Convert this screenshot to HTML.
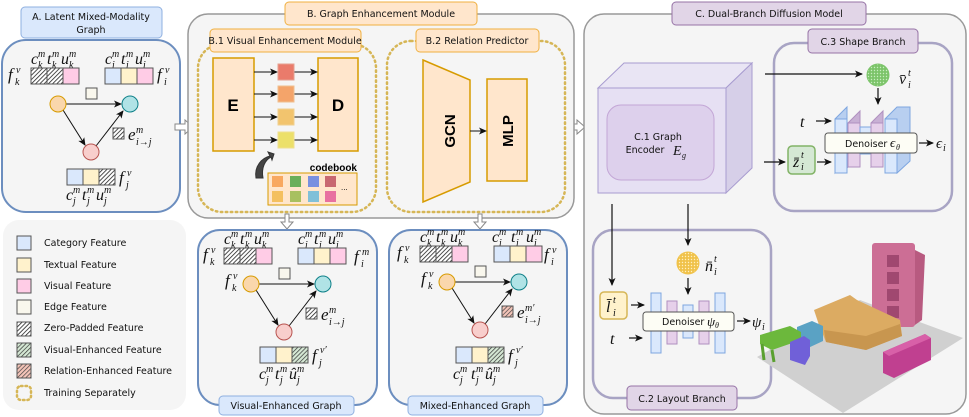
<!DOCTYPE html>
<html><head><meta charset="utf-8"><style>
html,body{margin:0;padding:0;background:#fff;}
svg{display:block;}
.lb{font-family:"DejaVu Sans","Liberation Sans",sans-serif;font-size:9.5px;fill:#111;}
.m{font-family:"Liberation Serif","DejaVu Serif",serif;font-style:italic;fill:#111;}
</style></head><body>
<svg width="969" height="417" viewBox="0 0 969 417" xmlns="http://www.w3.org/2000/svg">
<defs>
<pattern id="hk" patternUnits="userSpaceOnUse" width="3" height="3" patternTransform="rotate(45)"><rect width="3" height="3" fill="#fff"/><line x1="0" y1="0" x2="0" y2="3" stroke="#222" stroke-width="1.6"/></pattern>
<pattern id="hg" patternUnits="userSpaceOnUse" width="3" height="3" patternTransform="rotate(45)"><rect width="3" height="3" fill="#d5e8d4"/><line x1="0" y1="0" x2="0" y2="3" stroke="#333" stroke-width="1.4"/></pattern>
<pattern id="hp" patternUnits="userSpaceOnUse" width="3" height="3" patternTransform="rotate(45)"><rect width="3" height="3" fill="#f4c4b8"/><line x1="0" y1="0" x2="0" y2="3" stroke="#444" stroke-width="1.4"/></pattern>
<pattern id="dotg" patternUnits="userSpaceOnUse" width="3" height="3"><rect width="3" height="3" fill="#7cc46a"/><circle cx="1.5" cy="1.5" r="0.7" fill="#c8eec0"/></pattern>
<pattern id="doty" patternUnits="userSpaceOnUse" width="3" height="3"><rect width="3" height="3" fill="#f0c24a"/><circle cx="1.5" cy="1.5" r="0.7" fill="#fff0c0"/></pattern>
<marker id="ar" markerWidth="8" markerHeight="8" refX="7" refY="4" orient="auto" markerUnits="userSpaceOnUse"><path d="M0,0.5 L8,4 L0,7.5 L2,4 Z" fill="#111"/></marker>
</defs>

<!-- ===== Panel A ===== -->
<rect x="2" y="40" width="178" height="172" rx="24" fill="#f5f5f5" stroke="#6c8ebf" stroke-width="2"/>
<rect x="21" y="7" width="141" height="31" rx="4" fill="#dae8fc" stroke="#8fb0e0"/>
<text class="lb" x="91" y="20" text-anchor="middle">A. Latent Mixed-Modality</text>
<text class="lb" x="91" y="33" text-anchor="middle">Graph</text>

<g>
<text class="m" x="31" y="64" font-size="16">c</text><text class="m" x="38" y="57" font-size="10">m</text><text class="m" x="38" y="68" font-size="10">k</text>
<text class="m" x="47" y="64" font-size="16">t</text><text class="m" x="52" y="57" font-size="10">m</text><text class="m" x="52" y="68" font-size="10">k</text>
<text class="m" x="61" y="64" font-size="16">u</text><text class="m" x="69" y="57" font-size="10">m</text><text class="m" x="69" y="68" font-size="10">k</text>
<text class="m" x="8" y="80" font-size="17">f</text><text class="m" x="16" y="73" font-size="10">v</text><text class="m" x="15" y="85" font-size="10">k</text>
<rect x="31" y="68" width="16" height="16" fill="url(#hk)" stroke="#555"/><rect x="47" y="68" width="16" height="16" fill="url(#hk)" stroke="#555"/><rect x="63" y="68" width="16" height="16" fill="#ffcce6" stroke="#555"/>
<text class="m" x="105" y="64" font-size="16">c</text><text class="m" x="112" y="57" font-size="10">m</text><text class="m" x="112" y="68" font-size="10">i</text>
<text class="m" x="121" y="64" font-size="16">t</text><text class="m" x="126" y="57" font-size="10">m</text><text class="m" x="126" y="68" font-size="10">i</text>
<text class="m" x="135" y="64" font-size="16">u</text><text class="m" x="143" y="57" font-size="10">m</text><text class="m" x="143" y="68" font-size="10">i</text>
<rect x="105" y="68" width="16" height="16" fill="#dae8fc" stroke="#555"/><rect x="121" y="68" width="16" height="16" fill="#fff2cc" stroke="#555"/><rect x="137" y="68" width="16" height="16" fill="#ffcce6" stroke="#555"/>
<text class="m" x="157" y="80" font-size="17">f</text><text class="m" x="165" y="73" font-size="10">v</text><text class="m" x="164" y="85" font-size="10">i</text>
<rect x="86" y="88" width="11" height="11" fill="#f9f7ed" stroke="#555"/>
<line x1="66" y1="104" x2="121" y2="104" stroke="#111" marker-end="url(#ar)"/>
<line x1="63" y1="110" x2="85" y2="145" stroke="#111" marker-end="url(#ar)"/>
<line x1="96" y1="146" x2="123" y2="111" stroke="#111" marker-end="url(#ar)"/>
<circle cx="58" cy="104" r="8" fill="#fad7ac" stroke="#d79b00"/>
<circle cx="130" cy="104" r="8" fill="#b0e3e6" stroke="#0e8088"/>
<circle cx="91" cy="152" r="8" fill="#f8cecc" stroke="#b85450"/>
<rect x="113" y="128" width="11" height="11" fill="url(#hk)" stroke="#555"/>
<text class="m" x="128" y="140" font-size="17">e</text><text class="m" x="136" y="133" font-size="10">m</text><text class="m" x="136" y="145" font-size="10">i→j</text>
<rect x="67" y="169" width="16" height="16" fill="#dae8fc" stroke="#555"/><rect x="83" y="169" width="16" height="16" fill="#fff2cc" stroke="#555"/><rect x="99" y="169" width="16" height="16" fill="url(#hk)" stroke="#555"/>
<text class="m" x="119" y="183" font-size="17">f</text><text class="m" x="127" y="176" font-size="10">v</text><text class="m" x="126" y="188" font-size="10">j</text>
<text class="m" x="66" y="200" font-size="16">c</text><text class="m" x="73" y="193" font-size="10">m</text><text class="m" x="73" y="204" font-size="10">j</text>
<text class="m" x="82" y="200" font-size="16">t</text><text class="m" x="87" y="193" font-size="10">m</text><text class="m" x="87" y="204" font-size="10">j</text>
<text class="m" x="96" y="200" font-size="16">u</text><text class="m" x="104" y="193" font-size="10">m</text><text class="m" x="104" y="204" font-size="10">j</text>
</g>

<!-- hollow arrows -->
<path d="M175,124 h10 v-4 l8,7 l-8,7 v-4 h-10 z" fill="#fff" stroke="#888"/>
<path d="M372,124 h10 v-4 l8,7 l-8,7 v-4 h-10 z" fill="#fff" stroke="#888"/>
<path d="M567,124 h10 v-4 l8,7 l-8,7 v-4 h-10 z" fill="#fff" stroke="#888"/>

<!-- ===== Panel B ===== -->
<rect x="188" y="14" width="386" height="204" rx="20" fill="#f5f5f5" stroke="#999" stroke-width="1.5"/>
<rect x="285" y="2" width="192" height="23" rx="4" fill="#ffe6cc" stroke="#f0b040"/>
<text class="lb" x="381" y="17" text-anchor="middle">B. Graph Enhancement Module</text>
<rect x="198" y="44" width="178" height="168" rx="24" fill="none" stroke="#d6b656" stroke-width="2.5" stroke-dasharray="1.5,3.5" stroke-linecap="round"/>
<rect x="387" y="41" width="178" height="171" rx="24" fill="none" stroke="#d6b656" stroke-width="2.5" stroke-dasharray="1.5,3.5" stroke-linecap="round"/>
<rect x="210" y="29" width="151" height="23" rx="4" fill="#ffe6cc" stroke="#f0b040"/>
<text class="lb" x="285" y="44" text-anchor="middle">B.1 Visual Enhancement Module</text>
<rect x="416" y="29" width="123" height="23" rx="4" fill="#ffe6cc" stroke="#f0b040"/>
<text class="lb" x="477" y="44" text-anchor="middle">B.2 Relation Predictor</text>

<rect x="213" y="58" width="41" height="93" fill="#ffe6cc" stroke="#d79b00" stroke-width="1.5"/>
<text x="233" y="111" text-anchor="middle" font-family="Liberation Sans" font-weight="bold" font-size="17">E</text>
<rect x="318" y="58" width="40" height="93" fill="#ffe6cc" stroke="#d79b00" stroke-width="1.5"/>
<text x="338" y="111" text-anchor="middle" font-family="Liberation Sans" font-weight="bold" font-size="17">D</text>
<g stroke="#111">
<line x1="254" y1="72" x2="277" y2="72" marker-end="url(#ar)"/><line x1="294" y1="72" x2="317" y2="72" marker-end="url(#ar)"/>
<line x1="254" y1="94" x2="277" y2="94" marker-end="url(#ar)"/><line x1="294" y1="94" x2="317" y2="94" marker-end="url(#ar)"/>
<line x1="254" y1="117" x2="277" y2="117" marker-end="url(#ar)"/><line x1="294" y1="117" x2="317" y2="117" marker-end="url(#ar)"/>
<line x1="254" y1="140" x2="277" y2="140" marker-end="url(#ar)"/><line x1="294" y1="140" x2="317" y2="140" marker-end="url(#ar)"/>
</g>
<rect x="278" y="64" width="16" height="16" fill="#ea7b6b" stroke="#e5a090"/>
<rect x="278" y="86" width="16" height="16" fill="#f4a46a" stroke="#f0c090"/>
<rect x="278" y="109" width="16" height="16" fill="#f2c46e" stroke="#f0d090"/>
<rect x="278" y="132" width="16" height="16" fill="#ece06a" stroke="#f0e090"/>
<path d="M256,178 C254,166 262,158 270,156 L268,152 L274,154 L272,160 L271,157 C265,160 261,168 263,178 Z" fill="#444" stroke="#333"/>
<text x="357" y="171" text-anchor="end" font-family="Liberation Sans" font-weight="bold" font-size="10">codebook</text>
<rect x="268" y="173" width="89" height="32" fill="#ffe6cc" stroke="#d79b00"/>
<rect x="272" y="176" width="11" height="11" fill="#f8a860"/><rect x="290" y="176" width="11" height="11" fill="#6aaf5a"/><rect x="308" y="176" width="11" height="11" fill="#7890e0"/><rect x="325" y="176" width="11" height="11" fill="#c86870"/>
<rect x="272" y="191" width="11" height="11" fill="#f4c060"/><rect x="290" y="191" width="11" height="11" fill="#a8c060"/><rect x="308" y="191" width="11" height="11" fill="#80c0d8"/><rect x="325" y="191" width="11" height="11" fill="#e870a0"/>
<text x="341" y="190" font-family="Liberation Sans" font-size="8">...</text>

<path d="M423,60 L470,80 L470,182 L423,202 Z" fill="#ffe6cc" stroke="#d79b00" stroke-width="1.5"/>
<text transform="translate(455,131) rotate(-90)" text-anchor="middle" font-family="Liberation Sans" font-weight="bold" font-size="15">GCN</text>
<rect x="487" y="79" width="40" height="102" fill="#ffe6cc" stroke="#d79b00" stroke-width="1.5"/>
<text transform="translate(513,131) rotate(-90)" text-anchor="middle" font-family="Liberation Sans" font-weight="bold" font-size="15">MLP</text>
<line x1="470" y1="131" x2="486" y2="131" stroke="#111" marker-end="url(#ar)"/>

<!-- down arrows -->
<path d="M285,214 h4 v8 h4 l-6,7 l-6,-7 h4 z" fill="#fff" stroke="#888"/>
<path d="M478,214 h4 v8 h4 l-6,7 l-6,-7 h4 z" fill="#fff" stroke="#888"/>

<!-- ===== Legend ===== -->
<rect x="3" y="220" width="183" height="190" rx="16" fill="#f5f5f5"/>
<rect x="17" y="236" width="14" height="14" fill="#dae8fc" stroke="#555"/><text class="lb" x="44" y="246">Category Feature</text>
<rect x="17" y="258" width="14" height="14" fill="#fff2cc" stroke="#555"/><text class="lb" x="44" y="268">Textual Feature</text>
<rect x="17" y="279" width="14" height="14" fill="#ffcce6" stroke="#555"/><text class="lb" x="44" y="289">Visual Feature</text>
<rect x="17" y="300" width="14" height="14" fill="#f9f7ed" stroke="#555"/><text class="lb" x="44" y="310">Edge Feature</text>
<rect x="17" y="322" width="14" height="14" fill="url(#hk)" stroke="#555"/><text class="lb" x="44" y="331">Zero-Padded Feature</text>
<rect x="17" y="343" width="14" height="14" fill="url(#hg)" stroke="#555"/><text class="lb" x="44" y="353">Visual-Enhanced Feature</text>
<rect x="17" y="364" width="14" height="14" fill="url(#hp)" stroke="#555"/><text class="lb" x="44" y="374">Relation-Enhanced Feature</text>
<rect x="17" y="386" width="14" height="14" rx="4" fill="none" stroke="#d6b656" stroke-width="2.5" stroke-dasharray="1.5,3" stroke-linecap="round"/><text class="lb" x="44" y="396">Training Separately</text>

<!-- ===== Visual-Enhanced Graph ===== -->
<rect x="198" y="230" width="179" height="175" rx="22" fill="#f5f5f5" stroke="#6c8ebf" stroke-width="2"/>
<g transform="translate(193,180)">
<text class="m" x="31" y="64" font-size="16">c</text><text class="m" x="38" y="57" font-size="10">m</text><text class="m" x="38" y="68" font-size="10">k</text>
<text class="m" x="47" y="64" font-size="16">t</text><text class="m" x="52" y="57" font-size="10">m</text><text class="m" x="52" y="68" font-size="10">k</text>
<text class="m" x="61" y="64" font-size="16">u</text><text class="m" x="69" y="57" font-size="10">m</text><text class="m" x="69" y="68" font-size="10">k</text>
<text class="m" x="10" y="80" font-size="17">f</text><text class="m" x="18" y="73" font-size="10">v</text><text class="m" x="17" y="85" font-size="10">k</text>
<rect x="31" y="68" width="16" height="16" fill="url(#hk)" stroke="#555"/><rect x="47" y="68" width="16" height="16" fill="url(#hk)" stroke="#555"/><rect x="63" y="68" width="16" height="16" fill="#ffcce6" stroke="#555"/>
<text class="m" x="105" y="64" font-size="16">c</text><text class="m" x="112" y="57" font-size="10">m</text><text class="m" x="112" y="68" font-size="10">i</text>
<text class="m" x="121" y="64" font-size="16">t</text><text class="m" x="126" y="57" font-size="10">m</text><text class="m" x="126" y="68" font-size="10">i</text>
<text class="m" x="135" y="64" font-size="16">u</text><text class="m" x="143" y="57" font-size="10">m</text><text class="m" x="143" y="68" font-size="10">i</text>
<rect x="105" y="68" width="16" height="16" fill="#dae8fc" stroke="#555"/><rect x="121" y="68" width="16" height="16" fill="#fff2cc" stroke="#555"/><rect x="137" y="68" width="16" height="16" fill="#ffcce6" stroke="#555"/>
<text class="m" x="161" y="82" font-size="17">f</text><text class="m" x="169" y="75" font-size="10">m</text><text class="m" x="168" y="87" font-size="10">i</text>
<rect x="86" y="88" width="11" height="11" fill="#f9f7ed" stroke="#555"/>
<text class="m" x="32" y="106" font-size="17">f</text><text class="m" x="40" y="99" font-size="10">v</text><text class="m" x="39" y="111" font-size="10">k</text>
<line x1="66" y1="104" x2="121" y2="104" stroke="#111" marker-end="url(#ar)"/>
<line x1="63" y1="110" x2="85" y2="145" stroke="#111" marker-end="url(#ar)"/>
<line x1="96" y1="146" x2="123" y2="111" stroke="#111" marker-end="url(#ar)"/>
<circle cx="58" cy="104" r="8" fill="#fad7ac" stroke="#d79b00"/>
<circle cx="130" cy="104" r="8" fill="#b0e3e6" stroke="#0e8088"/>
<circle cx="91" cy="152" r="8" fill="#f8cecc" stroke="#b85450"/>
<rect x="113" y="128" width="11" height="11" fill="url(#hk)" stroke="#555"/>
<text class="m" x="128" y="140" font-size="17">e</text><text class="m" x="136" y="133" font-size="10">m</text><text class="m" x="136" y="145" font-size="10">i→j</text>
<rect x="67" y="167" width="16" height="16" fill="#dae8fc" stroke="#555"/><rect x="83" y="167" width="16" height="16" fill="#fff2cc" stroke="#555"/><rect x="99" y="167" width="16" height="16" fill="url(#hg)" stroke="#555"/>
<text class="m" x="119" y="181" font-size="17">f</text><text class="m" x="127" y="173" font-size="10">v′</text><text class="m" x="126" y="186" font-size="10">j</text>
<text class="m" x="66" y="199" font-size="16">c</text><text class="m" x="73" y="192" font-size="10">m</text><text class="m" x="73" y="203" font-size="10">j</text>
<text class="m" x="82" y="199" font-size="16">t</text><text class="m" x="87" y="192" font-size="10">m</text><text class="m" x="87" y="203" font-size="10">j</text>
<text class="m" x="96" y="199" font-size="16">û</text><text class="m" x="104" y="192" font-size="10">m</text><text class="m" x="104" y="203" font-size="10">j</text>
</g>
<rect x="219" y="396" width="135" height="19" rx="4" fill="#dae8fc" stroke="#8fb0e0"/>
<text class="lb" x="286" y="409" text-anchor="middle">Visual-Enhanced Graph</text>

<!-- ===== Mixed-Enhanced Graph ===== -->
<rect x="389" y="230" width="178" height="175" rx="22" fill="#f5f5f5" stroke="#6c8ebf" stroke-width="2"/>
<g transform="translate(389,178)">
<text class="m" x="31" y="64" font-size="16">c</text><text class="m" x="38" y="57" font-size="10">m</text><text class="m" x="38" y="68" font-size="10">k</text>
<text class="m" x="47" y="64" font-size="16">t</text><text class="m" x="52" y="57" font-size="10">m</text><text class="m" x="52" y="68" font-size="10">k</text>
<text class="m" x="61" y="64" font-size="16">u</text><text class="m" x="69" y="57" font-size="10">m</text><text class="m" x="69" y="68" font-size="10">k</text>
<text class="m" x="8" y="80" font-size="17">f</text><text class="m" x="16" y="73" font-size="10">v</text><text class="m" x="15" y="85" font-size="10">k</text>
<rect x="31" y="68" width="16" height="16" fill="url(#hk)" stroke="#555"/><rect x="47" y="68" width="16" height="16" fill="url(#hk)" stroke="#555"/><rect x="63" y="68" width="16" height="16" fill="#ffcce6" stroke="#555"/>
<text class="m" x="103" y="64" font-size="16">c</text><text class="m" x="110" y="57" font-size="10">m</text><text class="m" x="110" y="68" font-size="10">i</text>
<text class="m" x="122" y="64" font-size="16">t</text><text class="m" x="127" y="57" font-size="10">m</text><text class="m" x="127" y="68" font-size="10">i</text>
<text class="m" x="137" y="64" font-size="16">u</text><text class="m" x="145" y="57" font-size="10">m</text><text class="m" x="145" y="68" font-size="10">i</text>
<rect x="105" y="68" width="16" height="16" fill="#dae8fc" stroke="#555"/><rect x="121" y="68" width="16" height="16" fill="#fff2cc" stroke="#555"/><rect x="137" y="68" width="16" height="16" fill="#ffcce6" stroke="#555"/>
<text class="m" x="155" y="82" font-size="17">f</text><text class="m" x="163" y="75" font-size="10">v</text><text class="m" x="162" y="87" font-size="10">i</text>
<rect x="86" y="88" width="11" height="11" fill="#f9f7ed" stroke="#555"/>
<text class="m" x="32" y="106" font-size="17">f</text><text class="m" x="40" y="99" font-size="10">v</text><text class="m" x="39" y="111" font-size="10">k</text>
<line x1="66" y1="104" x2="121" y2="104" stroke="#111" marker-end="url(#ar)"/>
<line x1="63" y1="110" x2="85" y2="145" stroke="#111" marker-end="url(#ar)"/>
<line x1="96" y1="146" x2="123" y2="111" stroke="#111" marker-end="url(#ar)"/>
<circle cx="58" cy="104" r="8" fill="#fad7ac" stroke="#d79b00"/>
<circle cx="130" cy="104" r="8" fill="#b0e3e6" stroke="#0e8088"/>
<circle cx="91" cy="152" r="8" fill="#f8cecc" stroke="#b85450"/>
<rect x="113" y="128" width="11" height="11" fill="url(#hp)" stroke="#555"/>
<text class="m" x="128" y="140" font-size="17">e</text><text class="m" x="136" y="133" font-size="10">m′</text><text class="m" x="136" y="145" font-size="10">i→j</text>
<rect x="67" y="169" width="16" height="16" fill="#dae8fc" stroke="#555"/><rect x="83" y="169" width="16" height="16" fill="#fff2cc" stroke="#555"/><rect x="99" y="169" width="16" height="16" fill="url(#hg)" stroke="#555"/>
<text class="m" x="119" y="183" font-size="17">f</text><text class="m" x="127" y="175" font-size="10">v′</text><text class="m" x="126" y="188" font-size="10">j</text>
<text class="m" x="64" y="201" font-size="16">c</text><text class="m" x="71" y="194" font-size="10">m</text><text class="m" x="71" y="205" font-size="10">j</text>
<text class="m" x="82" y="201" font-size="16">t</text><text class="m" x="87" y="194" font-size="10">m</text><text class="m" x="87" y="205" font-size="10">j</text>
<text class="m" x="96" y="201" font-size="16">û</text><text class="m" x="104" y="194" font-size="10">m</text><text class="m" x="104" y="205" font-size="10">j</text>
</g>
<rect x="408" y="396" width="135" height="19" rx="4" fill="#dae8fc" stroke="#8fb0e0"/>
<text class="lb" x="475" y="409" text-anchor="middle">Mixed-Enhanced Graph</text>

<!-- ===== Panel C ===== -->
<rect x="584" y="14" width="382" height="400" rx="20" fill="#f5f5f5" stroke="#999" stroke-width="1.5"/>
<rect x="672" y="2" width="194" height="23" rx="4" fill="#e1d5e7" stroke="#9673a6"/>
<text class="lb" x="769" y="17" text-anchor="middle">C. Dual-Branch Diffusion Model</text>

<!-- cube -->
<path d="M598,88 L624,63 L752,63 L726,88 Z" fill="#e9e5f4" stroke="#a89cd0"/>
<path d="M726,88 L752,63 L752,168 L726,193 Z" fill="#d6cfe8" stroke="#a89cd0"/>
<rect x="598" y="88" width="128" height="105" fill="#e6e0f3" stroke="#a89cd0"/>
<rect x="607" y="105" width="107" height="75" rx="14" fill="#ddd0ec" stroke="#c3a6d6"/>
<text class="lb" x="658" y="140" text-anchor="middle">C.1 Graph</text>
<text class="lb" x="645" y="153" text-anchor="middle">Encoder</text>
<text class="m" x="673" y="155" font-size="14">E</text><text class="m" x="682" y="158" font-size="8">g</text>

<!-- Shape branch -->
<rect x="774" y="43" width="178" height="168" rx="20" fill="none" stroke="#a8a4c4" stroke-width="2.5"/>
<rect x="808" y="29" width="110" height="24" rx="4" fill="#e1d5e7" stroke="#9673a6"/>
<text class="lb" x="863" y="45" text-anchor="middle">C.3 Shape Branch</text>
<line x1="765" y1="74" x2="862" y2="74" stroke="#111" stroke-width="1.2" marker-end="url(#ar)"/>
<circle cx="878" cy="75" r="11" fill="url(#dotg)" stroke="#7cc46a"/>
<text class="m" x="899" y="84" font-size="16">v̄</text><text class="m" x="908" y="76" font-size="10">t</text><text class="m" x="908" y="88" font-size="10">i</text>
<line x1="878" y1="88" x2="878" y2="104" stroke="#111" stroke-width="1.2" marker-end="url(#ar)"/>
<g stroke="#7ea6e0">
<path d="M835,119 L847,107 L847,161 L835,173 Z" fill="#b8cff0"/><rect x="835" y="119" width="12" height="54" fill="#dae8fc"/>
<path d="M848,123 L860,111 L860,155 L848,167 Z" fill="#c8b0d4" stroke="#b090c0"/><rect x="848" y="123" width="12" height="44" fill="#e6d0ea" stroke="#b090c0"/>
<rect x="860" y="127" width="12" height="27" fill="#dae8fc"/>
<path d="M871,123 L883,111 L883,155 L871,167 Z" fill="#c8b0d4" stroke="#b090c0"/><rect x="871" y="123" width="12" height="44" fill="#e6d0ea" stroke="#b090c0"/>
<path d="M885,119 L897,107 L910,107 L910,161 L897,173 Z" fill="#b8cff0"/><rect x="885" y="119" width="12" height="54" fill="#dae8fc"/>
</g>
<rect x="825" y="133" width="92" height="20" rx="3" fill="#fdfdf5" stroke="#555"/>
<text class="lb" x="845" y="147">Denoiser</text>
<text class="m" x="890" y="147" font-size="13">ϵ</text><text class="m" x="896" y="150" font-size="8">θ</text>
<line x1="919" y1="143" x2="933" y2="143" stroke="#111" stroke-width="1.2" marker-end="url(#ar)"/>
<text class="m" x="936" y="148" font-size="15">ϵ</text><text class="m" x="943" y="151" font-size="10">i</text>
<text class="m" x="800" y="127" font-size="16">t</text>
<line x1="816" y1="121" x2="831" y2="121" stroke="#111" stroke-width="1.2" marker-end="url(#ar)"/>
<line x1="764" y1="162" x2="785" y2="162" stroke="#111" stroke-width="1.2" marker-end="url(#ar)"/>
<rect x="788" y="146" width="27" height="28" rx="4" fill="#d5e8d4" stroke="#82b366" stroke-width="1.5"/>
<text class="m" x="793" y="167" font-size="16">z̄</text><text class="m" x="801" y="158" font-size="10">t</text><text class="m" x="801" y="170" font-size="10">i</text>
<line x1="817" y1="162" x2="831" y2="162" stroke="#111" stroke-width="1.2" marker-end="url(#ar)"/>

<!-- Layout branch -->
<rect x="593" y="230" width="178" height="168" rx="20" fill="none" stroke="#a8a4c4" stroke-width="2.5"/>
<rect x="627" y="386" width="110" height="24" rx="4" fill="#e1d5e7" stroke="#9673a6"/>
<text class="lb" x="682" y="402" text-anchor="middle">C.2 Layout Branch</text>
<line x1="612" y1="204" x2="612" y2="285" stroke="#111" stroke-width="1.2" marker-end="url(#ar)"/>
<line x1="688" y1="204" x2="688" y2="245" stroke="#111" stroke-width="1.2" marker-end="url(#ar)"/>
<circle cx="688" cy="263" r="11" fill="url(#doty)" stroke="#f0c24a"/>
<text class="m" x="705" y="271" font-size="16">n̄</text><text class="m" x="714" y="262" font-size="10">t</text><text class="m" x="714" y="275" font-size="10">i</text>
<line x1="688" y1="278" x2="688" y2="294" stroke="#111" stroke-width="1.2" marker-end="url(#ar)"/>
<rect x="600" y="292" width="27" height="27" rx="4" fill="#fff2cc" stroke="#d6b656" stroke-width="1.5"/>
<text class="m" x="606" y="312" font-size="16">l̄</text><text class="m" x="613" y="303" font-size="10">t</text><text class="m" x="613" y="316" font-size="10">i</text>
<line x1="631" y1="305" x2="644" y2="305" stroke="#111" stroke-width="1.2" marker-end="url(#ar)"/>
<rect x="651" y="293" width="10" height="60" fill="#dae8fc" stroke="#7ea6e0"/>
<rect x="667" y="301" width="10" height="43" fill="#e6d0ea" stroke="#b090c0"/>
<rect x="683" y="305" width="10" height="33" fill="#dae8fc" stroke="#7ea6e0"/>
<rect x="699" y="301" width="10" height="43" fill="#e6d0ea" stroke="#b090c0"/>
<rect x="715" y="293" width="10" height="60" fill="#dae8fc" stroke="#7ea6e0"/>
<rect x="643" y="312" width="91" height="19" rx="3" fill="#fdfdf5" stroke="#555"/>
<text class="lb" x="662" y="325">Denoiser</text>
<text class="m" x="707" y="326" font-size="13">ψ</text><text class="m" x="715" y="328" font-size="8">θ</text>
<line x1="737" y1="321" x2="750" y2="321" stroke="#111" stroke-width="1.2" marker-end="url(#ar)"/>
<text class="m" x="752" y="327" font-size="15">ψ</text><text class="m" x="762" y="330" font-size="10">i</text>
<text class="m" x="610" y="344" font-size="16">t</text>
<line x1="629" y1="338" x2="642" y2="338" stroke="#111" stroke-width="1.2" marker-end="url(#ar)"/>

<!-- 3D scene -->
<path d="M757,357 L860,300 L963,338 L843,413 Z" fill="#d0d0d0"/>
<path d="M915,250 L925,255 L922,320 L912,327 Z" fill="#b85a80"/>
<rect x="872" y="243" width="43" height="84" rx="3" fill="#cc6e95"/>
<rect x="887" y="255" width="12" height="12" fill="#a04870"/><rect x="887" y="272" width="12" height="12" fill="#a04870"/><rect x="887" y="289" width="12" height="12" fill="#a04870"/><rect x="887" y="306" width="12" height="12" fill="#a04870"/>
<path d="M814,310 L850,295 L857,300 L900,320 L902,336 L866,350 L826,342 L818,322 Z" fill="#dcab62"/>
<path d="M826,342 L866,350 L902,336 L900,324 L866,336 L824,330 Z" fill="#c8964f"/>
<path d="M797,327 L812,321 L823,326 L823,341 L808,348 L797,343 Z" fill="#5aa2c4"/>
<path d="M760,335 L790,326 L801,332 L801,340 L772,350 L760,344 Z" fill="#6cb83c"/>
<path d="M762,344 L764,360 M772,350 L774,362 M798,340 L798,352" stroke="#5aa030" stroke-width="3"/>
<path d="M790,342 L804,336 L810,340 L810,356 L805,365 L790,360 Z" fill="#7060d8"/>
<path d="M883,352 L925,334 L931,338 L931,360 L894,378 L883,373 Z" fill="#c04090"/>
<path d="M883,352 L925,334 L931,338 L889,356 Z" fill="#d860a8"/>
</svg>
</body></html>
